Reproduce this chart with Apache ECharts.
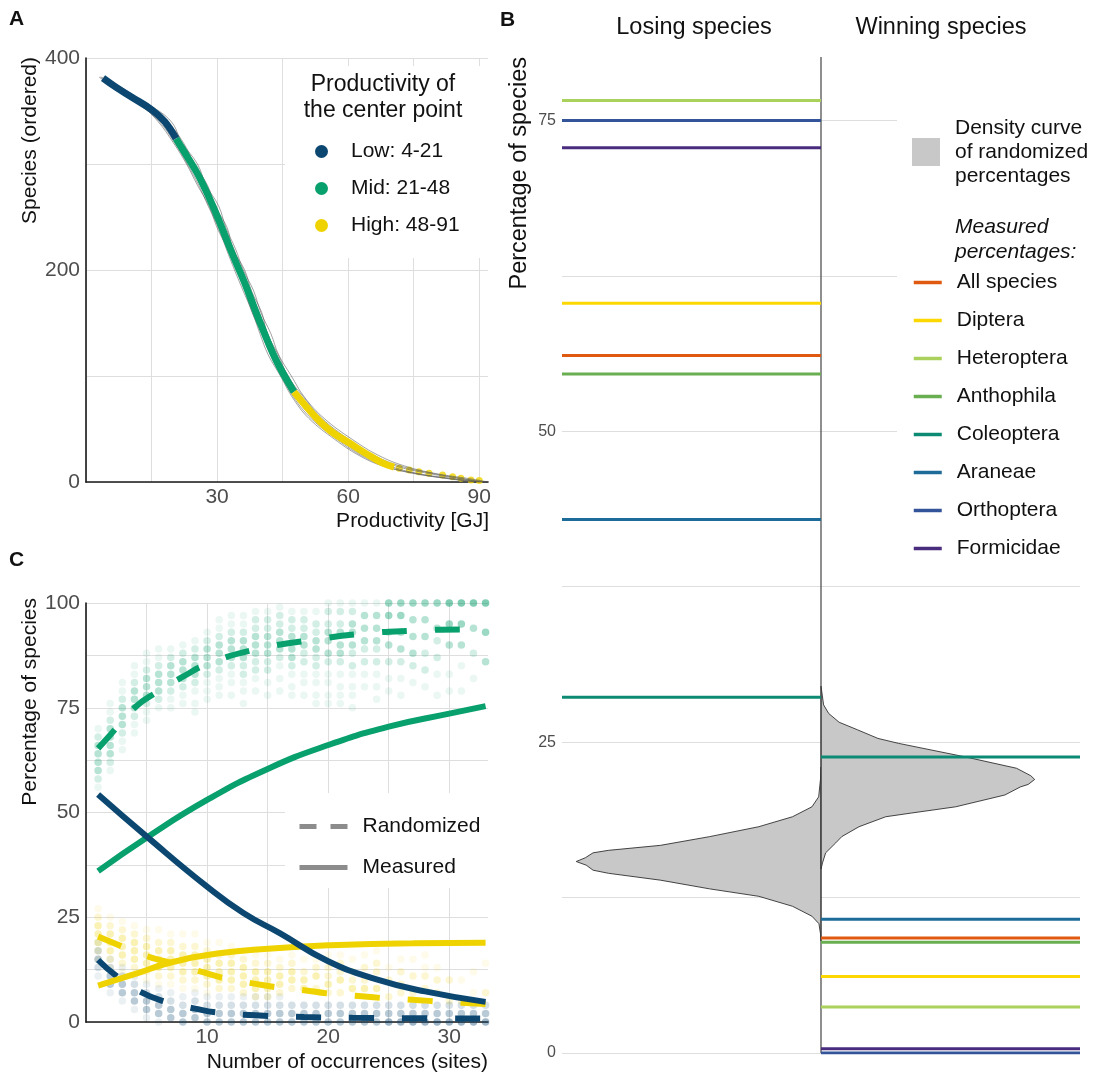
<!DOCTYPE html>
<html>
<head>
<meta charset="utf-8">
<script src="https://cdn.jsdelivr.net/npm/echarts@6/dist/echarts.min.js"></script>
<style>
  html, body { margin: 0; padding: 0; background: #fff; }
  #main { width: 1094px; height: 1077px; }
</style>
</head>
<body>
<div id="main"></div>
<script>
// ---------- panel A: ordered species vs productivity ----------
const lowX = [3.9, 7, 10.5, 15.1, 18, 20.6]
const lowY = [381, 372, 363, 351, 340, 324]
const midX = [20.6, 23, 25.9, 29.7, 33.4, 36.5, 39.6, 43.5, 47.6]
const midY = [324, 308, 288, 254, 216, 186, 153, 115, 85]
const highX = [47.6, 52.6, 56, 60.2, 64, 67.8, 70.5]
const highY = [85, 61, 48, 37, 27, 18, 14]
const tailX = [71.7, 74, 76.2, 78.5, 81.6, 83.9, 85.8, 88.1, 90]
const tailY = [12.9, 11.3, 9.7, 8.2, 6.6, 5.0, 3.5, 1.9, 1.3]

// randomized curves (productivity at given ranks)
const grayRanks = [382, 370, 355, 340, 320, 300, 280, 260, 240, 220, 200, 180, 160, 140, 120, 100, 80, 60, 40, 25, 15, 8, 3, 0]
const grayX1 = [4.5, 8.5, 14.8, 19.5, 22.0, 25.5, 27.5, 30.4, 32.0, 34.2, 36.0, 38.4, 40.0, 42.3, 44.1, 47.0, 50.0, 54.5, 61.0, 67.0, 73.0, 80.0, 88.0, 92]
const grayX2 = [3.0, 7.0, 12.5, 16.8, 20.3, 23.2, 25.8, 28.0, 30.3, 32.1, 34.0, 36.0, 38.1, 39.8, 41.7, 44.5, 47.2, 51.0, 57.0, 62.5, 68.0, 75.5, 83.0, 89.5]
const grayX3 = [4.0, 8.0, 14.0, 18.6, 22.3, 24.8, 27.8, 29.6, 32.3, 33.6, 36.3, 37.9, 40.2, 41.5, 44.0, 46.2, 49.8, 54.0, 60.2, 66.0, 72.0, 79.5, 86.5, 91.5]
const grayX4 = [3.6, 7.4, 13.0, 17.2, 20.6, 23.8, 26.2, 28.5, 30.7, 32.6, 34.5, 36.6, 38.5, 40.4, 42.4, 45.0, 48.0, 52.0, 58.0, 63.5, 69.5, 76.0, 84.5, 90.5]
const grayX5 = [4.2, 9.0, 14.2, 18.2, 21.8, 24.9, 27.2, 29.8, 31.6, 33.8, 35.6, 37.6, 39.6, 41.6, 43.6, 46.3, 49.2, 53.5, 59.6, 65.5, 71.0, 78.5, 86.0, 91.0]
const grayX6 = [3.3, 7.6, 12.8, 16.5, 20.0, 23.0, 25.5, 28.2, 30.0, 32.4, 34.6, 36.4, 38.0, 40.2, 42.2, 44.8, 47.5, 51.5, 57.5, 63.0, 68.5, 75.0, 83.5, 90.0]

// ---------- panel B: measured percentages ----------
const taxa = ['All species', 'Diptera', 'Heteroptera', 'Anthophila', 'Coleoptera', 'Araneae', 'Orthoptera', 'Formicidae']
const losePct = [56.1, 60.3, 76.6, 54.6, 28.6, 42.9, 75.0, 72.8]
const winPct = [9.25, 6.15, 3.7, 8.9, 23.8, 10.75, 0.0, 0.35]
const taxaColors = ['#df5a10', '#fcd700', '#a9d15b', '#6aae52', '#0d8a73', '#1c6b98', '#34549a', '#4a2c7e']

// density of randomized percentages (percentage, relative density)
const loseDensY = [23.0, 22.0, 20.6, 19.8, 19.0, 18.2, 17.4, 16.7, 16.3, 16.1, 15.7, 15.4, 15.1, 14.7, 14.45, 13.9, 13.2, 12.6, 11.8, 11.0, 10.4, 9.6, 9.0]
const loseDensW = [0, 0.002, 0.009, 0.035, 0.11, 0.24, 0.43, 0.62, 0.82, 0.88, 0.91, 0.945, 0.906, 0.88, 0.82, 0.62, 0.43, 0.24, 0.11, 0.035, 0.008, 0.002, 0]
const winDensY = [29.5, 28.0, 27.3, 26.6, 26.0, 25.3, 24.9, 23.8, 22.9, 22.3, 22.0, 21.6, 21.4, 20.75, 19.8, 19.3, 19.0, 18.2, 17.4, 16.9, 16.1, 15.3, 14.8]
const winDensW = [0, 0.01, 0.03, 0.07, 0.14, 0.22, 0.30, 0.56, 0.755, 0.81, 0.825, 0.80, 0.77, 0.71, 0.52, 0.35, 0.25, 0.147, 0.08, 0.057, 0.018, 0.006, 0]

// ---------- panel C: percentage vs number of occurrences ----------
const greenDash = [[1, 65.3], [2, 68.5], [4, 75], [6, 79], [8, 82.4], [10, 85.4], [14, 88.9], [19, 91.3], [23, 92.7], [27, 93.4], [31, 93.7], [33, 93.6]]
const yellowDash = [[1, 20.4], [3, 18], [5, 15.7], [7, 14.1], [9.5, 12], [11.5, 10.4], [14, 9.1], [16, 8.2], [18, 7.6], [20, 6.8], [22.5, 6.2], [25, 5.6], [27, 5.3], [29, 4.9], [31, 4.6], [33, 4.3]]
const blueDash = [[1, 14.8], [2.5, 11], [4.5, 7.2], [6.5, 4.9], [9, 3.2], [11, 2.2], [14, 1.6], [18, 1.2], [22, 1.0], [27, 0.9], [33, 0.8]]
const greenSolid = [[1, 36], [5, 44], [10, 53], [15, 60.4], [20, 66.1], [25, 70.5], [30, 73.6], [33, 75.4]]
const yellowSolid = [[1, 8.7], [4, 11.4], [7, 14.2], [11, 16.4], [15, 17.5], [20, 18.3], [27, 18.8], [33, 18.9]]
const blueSolid = [[1, 54.3], [5, 44.3], [10, 32.3], [13, 26], [16, 21.2], [20, 14.5], [24, 10.2], [28, 7.3], [33, 4.8]]

// randomized outcomes: per occurrence count (1..33) the percentages seen, and how often (1 rare .. 5 frequent)
const greenY = [
  [70,68,66,64,62,60,58,56], [76,74,72,70,68,66,64,62,60], [81,79,77,75,73,71,69,67,65], [85,83,81,79,77,75,73,71,69],
  [88,86,84,82,80,78,76,74,72], [89,87,85,83,81,79,77,75], [89,87,85,83,81,79,77,75], [90,88,86,84,82,80,78,76],
  [91,89,87,85,83,81,79,76,74], [93,91,89,87,85,83,81,79,77], [96,94,92,90,88,86,84,82,80,78], [97,95,93,91,89,87,85,83,81,78],
  [97,95,93,91,89,87,85,83,81,79,76], [98,96,94,92,90,88,86,84,82,79], [98,96,94,92,90,88,86,84,81,78], [99,97,95,93,91,89,87,85,82,79],
  [98,96,94,92,89,87,85,83,80,78], [98,96,94,92,90,88,86,83,81,78], [98,95,93,91,89,87,85,83,81,78,76], [100,98,95,93,91,88,86,83,81,78,76],
  [100,98,95,93,90,88,86,83,80,78,76], [100,98,95,93,90,88,85,83,80,78,75], [100,97,94,91,89,86,83,80], [100,97,94,91,89,86,83,80,77],
  [100,97,93,90,86,82,79], [100,97,93,89,86,82,78], [100,96,92,88,85,81], [100,96,92,88,84,80],
  [100,94,91,87,83,78], [100,95,90,83,79], [100,95,90,85,79], [100,94,88,82], [100,93,86]
]
const greenW = [
  [1,2,3,3,3,3,2,1], [1,1,2,3,3,3,3,2,1], [1,1,2,3,3,3,2,1,1], [1,1,2,3,3,3,2,1,1],
  [1,1,2,3,3,3,2,1,1], [1,1,2,3,3,3,2,1], [1,2,3,3,3,2,1,1], [1,2,3,3,3,2,1,1],
  [1,2,3,3,3,2,1,1,1], [1,2,3,3,3,2,1,1,1], [1,1,2,3,3,3,2,1,1,1], [1,1,2,3,3,3,2,1,1,1],
  [1,1,2,3,3,3,2,2,1,1,1], [1,2,2,3,3,3,2,2,1,1], [1,2,2,3,3,3,2,2,1,1], [1,2,2,3,3,3,2,1,1,1],
  [1,2,2,3,3,3,2,1,1,1], [1,2,2,3,3,2,2,1,1,1], [1,2,2,3,3,2,2,1,1,1,1], [1,2,2,3,3,3,2,1,1,1,1],
  [1,2,2,3,3,3,2,1,1,1,1], [1,2,3,3,3,2,2,1,1,1,1], [1,3,3,3,2,2,1,1], [1,3,3,3,2,2,1,1,1],
  [4,4,2,3,2,1,1], [4,4,3,3,2,1,1], [4,3,3,3,2,1], [4,3,3,2,2,1],
  [4,3,2,2,1,1], [5,4,3,1,1], [5,4,3,1,1], [5,3,2,1], [5,4,3]
]
const yellowY = [
  [27,25,23,21,19,17,15], [25,23,21,19,17,15,13], [24,22,20,18,16,14,12], [23,21,19,17,15,13,11],
  [22,20,18,16,14,12,10], [22,19,17,15,13,11,9], [21,19,17,15,13,11,9], [21,18,16,14,12,10,8],
  [21,18,16,14,12,10,8], [19,17,15,13,11,9,7], [19,16,14,12,10,8], [18,16,14,12,10,8],
  [17,15,13,11,9,7], [16,14,12,10,8,6], [16,14,12,10,8,6], [15,13,11,9,7],
  [16,14,12,10,8], [15,12,10,8], [15,13,11,8], [16,13,11,9,7],
  [16,14,12,10,7], [15,12,10,8], [16,13,10,8], [17,14,12,8],
  [13,10,6], [15,12,9,7], [15,11,7], [16,13,11,8],
  [13,10,7], [10,5], [10,5], [12,7], [14,7]
]
const yellowW = [
  [1,2,3,3,3,2,1], [1,2,3,3,3,2,1], [1,2,3,3,3,2,1], [1,2,3,3,3,2,1],
  [1,2,3,3,3,2,1], [1,2,3,3,3,2,1], [1,2,3,3,3,2,1], [1,2,3,3,3,2,1],
  [1,2,3,3,3,2,1], [1,2,3,3,3,2,1], [1,2,3,3,3,2], [1,2,3,3,3,2],
  [1,2,3,3,3,2], [1,2,3,3,3,2], [1,2,3,3,3,2], [1,2,3,3,2],
  [1,2,3,3,2], [1,2,3,3], [1,2,3,2], [1,2,2,3,2],
  [1,2,2,3,2], [1,2,2,3], [1,2,2,3], [1,2,2,3],
  [1,2,2], [1,2,2,2], [1,2,2], [1,1,2,2],
  [1,2,2], [2,2], [1,2], [1,1], [1,2]
]
const blueY = [
  [19,17,15,13,11], [15,13,11,9,7], [13,11,9,7,5], [11,9,7,5,3],
  [9,7,5,3,1], [8,6,4,2,0], [7,5,3,1], [6,4,2,0],
  [7,5,3,1], [6,4,2,0], [6,4,2,0], [6,4,2,0],
  [6,4,2,0], [6,4,2,0], [6,4,2,0], [6,4,2,0],
  [4,2,0], [4,2,0], [4,2,0], [4,2,0],
  [4,2,0], [4,2,0], [4,2,0], [4,2,0],
  [4,2,0], [4,2,0], [4,2,0], [4,2,0],
  [4,2,0], [4,2,0], [4,2,0], [4,2,0], [4,2,0]
]
const blueW = [
  [1,2,3,2,1], [1,2,3,3,1], [1,2,3,3,1], [1,2,3,3,1],
  [1,2,3,3,1], [1,2,3,3,1], [1,2,3,3], [1,2,3,3],
  [1,2,3,3], [1,2,3,3], [1,2,3,3], [1,2,3,3],
  [1,2,3,3], [1,2,3,3], [1,2,3,3], [1,2,3,3],
  [2,3,3], [2,3,3], [2,3,3], [2,3,3],
  [2,3,3], [2,3,3], [2,3,3], [2,3,3],
  [2,3,4], [2,3,4], [2,3,4], [2,3,4],
  [2,3,4], [2,3,4], [2,3,4], [2,3,4], [2,3,4]
]

const FONT = '"Liberation Sans", Arial, Helvetica, sans-serif'
const cLow = '#0b4770', cMid = '#08a06c', cHigh = '#efd300'
const GRID = '#dedede', AXIS = '#1a1a1a', TICK = '#4d4d4d'
const alphaByW = [0, 0.1, 0.22, 0.36, 0.5, 0.65]

function rgba (hex, a) {
  const n = parseInt(hex.slice(1), 16)
  return 'rgba(' + (n >> 16) + ',' + ((n >> 8) & 255) + ',' + (n & 255) + ',' + a + ')'
}
function zip (xs, ys) { return xs.map((x, i) => [x, ys[i]]) }
function dots (ys, ws) {
  const out = []
  ys.forEach((col, i) => col.forEach((y, j) => out.push([i + 1, y, ws[i][j]])))
  return out
}

const chart = echarts.init(document.getElementById('main'))
const series = []

// A
;[grayX1, grayX2, grayX3, grayX4, grayX5, grayX6].forEach(g => {
  series.push({
    type: 'line', xAxisIndex: 0, yAxisIndex: 0, data: zip(g, grayRanks),
    symbol: 'none', smooth: 0.4, silent: true,
    lineStyle: { color: '#555', width: 1, opacity: 0.55 }
  })
})
;[['Low: 4-21', lowX, lowY, cLow], ['Mid: 21-48', midX, midY, cMid], ['High: 48-91', highX, highY, cHigh]].forEach(d => {
  series.push({ name: d[0], type: 'line', xAxisIndex: 0, yAxisIndex: 0, data: zip(d[1], d[2]), symbol: 'none',
    smooth: 0.4, itemStyle: { color: d[3] }, lineStyle: { color: d[3], width: 7 } })
})
series.push({ name: 'High: 48-91', type: 'scatter', xAxisIndex: 0, yAxisIndex: 0, data: zip(tailX, tailY), symbolSize: 7, itemStyle: { color: cHigh } })

// B
series.push({
  name: 'density', type: 'custom', xAxisIndex: 1, yAxisIndex: 1,
  data: [[0, 0], [0, 0]], silent: true, z: 2,
  renderItem: function (params, api) {
    const left = params.dataIndex === 0
    const ys = left ? loseDensY : winDensY
    const ws = left ? loseDensW : winDensW
    const pts = ys.map((y, i) => api.coord([(left ? -1 : 1) * ws[i], y]))
    return { type: 'polygon', shape: { points: pts }, style: { fill: '#c8c8c8', stroke: '#1a1a1a', lineWidth: 0.8 } }
  }
})
series.push({ type: 'line', xAxisIndex: 1, yAxisIndex: 1, data: [[0, 0], [0, 80.1]], symbol: 'none', silent: true, z: 3, lineStyle: { color: '#444', width: 1.2 } })
taxa.forEach((t, i) => {
  const st = { type: 'line', name: t, xAxisIndex: 1, yAxisIndex: 1, symbol: 'none', silent: true, z: 4,
    itemStyle: { color: taxaColors[i] }, lineStyle: { color: taxaColors[i], width: 3, cap: 'butt' } }
  series.push(Object.assign({}, st, { data: [[-1, losePct[i]], [0, losePct[i]]] }))
  series.push(Object.assign({}, st, { data: [[0, winPct[i]], [1, winPct[i]]] }))
})

// C
;[[yellowY, yellowW, cHigh], [blueY, blueW, cLow], [greenY, greenW, cMid]].forEach(d => {
  series.push({
    type: 'scatter', xAxisIndex: 2, yAxisIndex: 2, data: dots(d[0], d[1]), symbolSize: 7.5, silent: true, clip: false,
    itemStyle: { color: p => rgba(d[2], alphaByW[p.value[2]]) }
  })
})
const dash = [25, 28]
;[[greenDash, cMid], [yellowDash, cHigh], [blueDash, cLow]].forEach(d => {
  series.push({ type: 'line', xAxisIndex: 2, yAxisIndex: 2, data: d[0], symbol: 'none', smooth: true, silent: true,
    lineStyle: { color: d[1], width: 6, type: dash, cap: 'butt' } })
})
;[[yellowSolid, cHigh], [greenSolid, cMid], [blueSolid, cLow]].forEach(d => {
  series.push({ type: 'line', xAxisIndex: 2, yAxisIndex: 2, data: d[0], symbol: 'none', smooth: true, silent: true,
    lineStyle: { color: d[1], width: 6 } })
})
series.push({ name: 'Randomized', type: 'line', xAxisIndex: 2, yAxisIndex: 2, data: [], symbol: 'none', itemStyle: { color: '#8c8c8c' }, lineStyle: { color: '#8c8c8c', width: 5, type: [17, 14] } })
series.push({ name: 'Measured', type: 'line', xAxisIndex: 2, yAxisIndex: 2, data: [], symbol: 'none', itemStyle: { color: '#8c8c8c' }, lineStyle: { color: '#8c8c8c', width: 5 } })

const tickLabel = { fontFamily: FONT, fontSize: 21, color: TICK }
const gridLine = { show: true, lineStyle: { color: GRID, width: 1 } }
const axLine = { show: true, onZero: false, lineStyle: { color: AXIS, width: 1.6 } }

function text (x, y, str, extra) {
  return { type: 'text', x: x, y: y, z: 10, style: Object.assign({ text: str, fontFamily: FONT, fontSize: 21, fill: '#111', textAlign: 'left', textVerticalAlign: 'middle' }, extra || {}) }
}
function vtext (x, y, str, size) {
  return { type: 'text', x: x, y: y, rotation: Math.PI / 2, z: 10, style: { text: str, fontFamily: FONT, fontSize: size, fill: '#111', textAlign: 'right', textVerticalAlign: 'middle' } }
}
function legendText (pad) {
  return { fontFamily: FONT, fontSize: 21, color: '#111', lineHeight: 20, padding: [0, 0, 0, pad] }
}

chart.setOption({
  animation: false,
  backgroundColor: '#fff',
  grid: [
    { left: 86, top: 58, width: 402, height: 424 },
    { left: 562, top: 57, width: 518, height: 996 },
    { left: 86, top: 603, width: 402, height: 419 }
  ],
  xAxis: [
    { gridIndex: 0, type: 'value', min: 0, max: 92, interval: 15, axisLine: axLine, axisTick: { show: false },
      axisLabel: Object.assign({ margin: 5, formatter: v => (v > 0 && v % 30 === 0 ? String(v) : '') }, tickLabel),
      splitLine: Object.assign({ showMaxLine: false }, gridLine) },
    { gridIndex: 1, type: 'value', min: -1, max: 1, show: false },
    { gridIndex: 2, type: 'value', min: 0, max: 33.2, interval: 5, axisLine: axLine, axisTick: { show: false },
      axisLabel: Object.assign({ margin: 5, formatter: v => (v > 0 && v % 10 === 0 ? String(v) : '') }, tickLabel),
      splitLine: Object.assign({ showMaxLine: false }, gridLine) }
  ],
  yAxis: [
    { gridIndex: 0, type: 'value', min: 0, max: 400, interval: 100, axisLine: axLine, axisTick: { show: false },
      axisLabel: Object.assign({ margin: 6, formatter: v => (v % 200 === 0 ? String(v) : '') }, tickLabel),
      splitLine: gridLine },
    { gridIndex: 1, type: 'value', min: 0, max: 80.1, interval: 12.5, axisLine: { show: false }, axisTick: { show: false },
      axisLabel: { margin: 6, fontFamily: FONT, fontSize: 16, color: TICK, formatter: v => (v % 25 === 0 ? String(v) : '') },
      splitLine: Object.assign({ showMaxLine: false }, gridLine) },
    { gridIndex: 2, type: 'value', min: 0, max: 100, interval: 12.5, axisLine: axLine, axisTick: { show: false },
      axisLabel: Object.assign({ margin: 6, formatter: v => (v % 25 === 0 ? String(v) : '') }, tickLabel),
      splitLine: gridLine }
  ],
  legend: [
    { data: ['Low: 4-21', 'Mid: 21-48', 'High: 48-91'], orient: 'vertical', left: 310, top: 136, icon: 'circle',
      itemWidth: 13, itemHeight: 13, itemGap: 16, selectedMode: false, textStyle: legendText(18) },
    { data: taxa, orient: 'vertical', left: 907, top: 267, itemWidth: 28, itemHeight: 20, itemGap: 17,
      itemStyle: { opacity: 0 }, lineStyle: { width: 3.5 }, selectedMode: false, textStyle: legendText(10) },
    { data: [{ name: 'Randomized', lineStyle: { type: [17, 14] } }, { name: 'Measured' }], orient: 'vertical', left: 292, top: 811,
      itemWidth: 48, itemHeight: 20, itemGap: 20, itemStyle: { opacity: 0 }, lineStyle: { width: 5 }, selectedMode: false, textStyle: legendText(10) }
  ],
  graphic: [
    // legend backgrounds hide the grid lines behind them
    { type: 'rect', z: 1, shape: { x: 285, y: 66, width: 204, height: 192 }, style: { fill: '#fff' } },
    { type: 'rect', z: 1, shape: { x: 897, y: 98, width: 197, height: 468 }, style: { fill: '#fff' } },
    { type: 'rect', z: 1, shape: { x: 285, y: 793, width: 203, height: 95 }, style: { fill: '#fff' } },
    text(383, 98, 'Productivity of\nthe center point', { fontSize: 23, lineHeight: 26, textAlign: 'center' }),
    { type: 'rect', z: 10, shape: { x: 912, y: 138, width: 28, height: 28 }, style: { fill: '#c8c8c8' } },
    text(955, 152, 'Density curve\nof randomized\npercentages', { lineHeight: 24 }),
    text(955, 240, 'Measured\npercentages:', { lineHeight: 25, fontStyle: 'italic' }),
    // panel letters
    text(9, 19, 'A', { fontWeight: 'bold' }),
    text(500, 20, 'B', { fontWeight: 'bold' }),
    text(9, 560, 'C', { fontWeight: 'bold' }),
    // axis titles
    text(489, 521, 'Productivity [GJ]', { textAlign: 'right' }),
    text(488, 1062, 'Number of occurrences (sites)', { textAlign: 'right' }),
    text(694, 28, 'Losing species', { textAlign: 'center', fontSize: 23.5 }),
    text(941, 28, 'Winning species', { textAlign: 'center', fontSize: 23.5 }),
    vtext(30, 57, 'Species (ordered)', 21),
    vtext(520, 57, 'Percentage of species', 23.5),
    vtext(30, 598, 'Percentage of species', 21)
  ],
  series: series
})
</script>
</body>
</html>
